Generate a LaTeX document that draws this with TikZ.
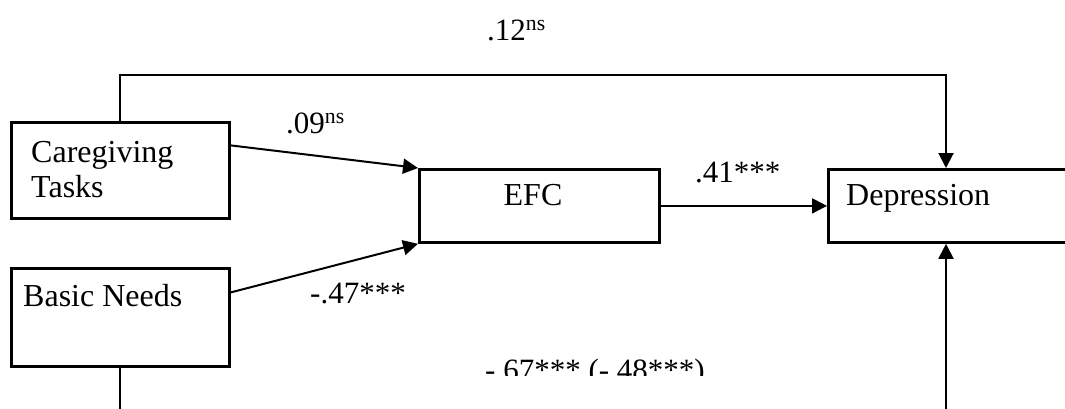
\documentclass[tikz,border=0pt]{standalone}
\usepackage{fontspec}
\setmainfont{Liberation Serif}
\usetikzlibrary{arrows.meta}
\tikzset{
  box/.style={draw=black, line width=2.8pt, inner sep=0pt, rectangle},
  txt/.style={inner sep=0pt, anchor=base west, font=\fontsize{32}{35}\selectfont},
  lab/.style={inner sep=0pt, anchor=base west, font=\fontsize{31}{35}\selectfont},
  conn/.style={draw=black, line width=2pt},
  arr/.style={conn, -{Triangle[length=15pt,width=15pt]}},
}
\begin{document}
\begin{tikzpicture}[x=1pt,y=1pt]
\useasboundingbox (0,0) rectangle (1065,-408);
\clip (0,0) rectangle (1065,-408);
% boxes
\node[box, anchor=north west, minimum width=218pt, minimum height=96pt] (care) at (10,-121) {};
\node[box, anchor=north west, minimum width=218pt, minimum height=98pt] (basic) at (10,-267) {};
\node[box, anchor=north west, minimum width=240pt, minimum height=73pt] (efc) at (418,-168) {};
\node[box, anchor=north west, minimum width=320pt, minimum height=73pt] (dep) at (827,-168) {};
% box texts
\node[txt] (caretxt1) at (31,-162) {Caregiving};
\node[txt] (caretxt2) at (31,-197) {Tasks};
\node[txt] (basictxt) at (23,-306) {Basic Needs};
\node[txt, anchor=base] (efctxt) at (533,-205) {EFC};
\node[txt] (deptxt) at (846,-205) {Depression};
% connector helper coordinates
\coordinate (tx) at (946,-75);
\coordinate (bx) at (946,-460);
% connectors
\draw[arr] ([yshift=25pt]care.east) -- (efc.north west);
\draw[arr] ([yshift=25pt]basic.east) -- (efc.south west);
\draw[arr] (efc.east) -- (efc.east -| dep.west);
\draw[arr] (care.north) |- (tx) -- (tx |- dep.north);
\draw[arr] (basic.south) |- (bx) -- (bx |- dep.south);
% labels
\node[lab] (l12) at (487,-40) {.12\textsuperscript{ns}};
\node[lab] (l09) at (286,-133) {.09\textsuperscript{ns}};
\node[lab] (l41) at (695,-182) {.41***};
\node[lab] (l47) at (310,-303) {-.47***};
\begin{scope}
\clip (0,0) rectangle (1065,-375);
\node[lab] (l67) at (485,-380) {-.67*** (-.48***)};
\end{scope}
\end{tikzpicture}
\end{document}
